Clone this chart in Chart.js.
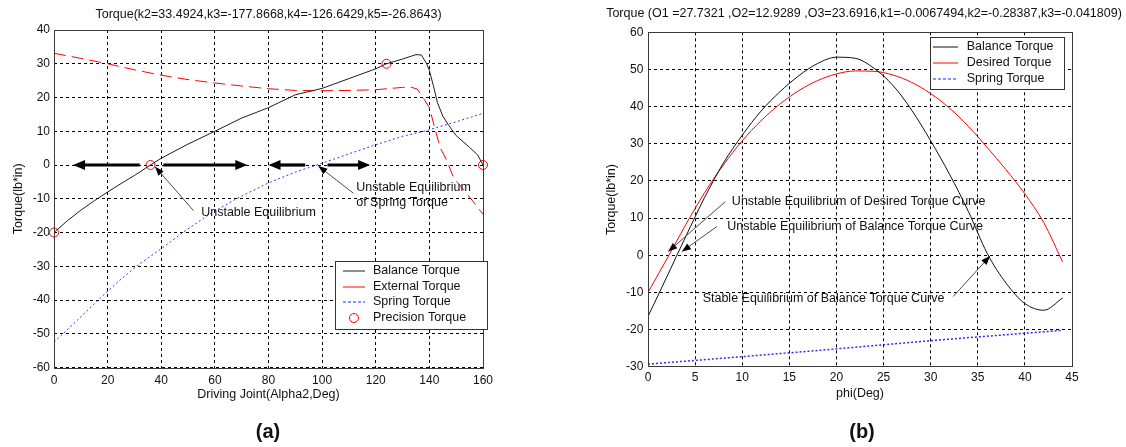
<!DOCTYPE html>
<html>
<head>
<meta charset="utf-8">
<script src="https://cdn.jsdelivr.net/npm/chart.js@4.4.0/dist/chart.umd.min.js"></script>
<style>
    html, body { margin: 0; padding: 0; background: #fff; }
    body { width: 1126px; height: 447px; position: relative; overflow: hidden; font-family: "Liberation Sans", Arial, sans-serif; }
    canvas { position: absolute; top: 0; }
    #chartA { left: 0; }
    #chartB { left: 602px; }
    .tag { position: absolute; top: 419px; line-height: 24px; font-size: 20px; font-weight: bold; color: #111; transform: translateX(-50%); }
</style>
</head>
<body>
<canvas id="chartA" width="537" height="447"></canvas>
<canvas id="chartB" width="524" height="447"></canvas>
<div class="tag" style="left:268px">(a)</div>
<div class="tag" style="left:862px">(b)</div>
<script>
// (a) torque x Alpha2
const alphaBalance = [0, 5, 10, 15, 20, 25, 30, 36, 40, 50, 60, 70, 80, 90, 100, 110, 120, 124, 130, 135, 137, 139, 140, 141.5, 143, 145, 147, 150, 155, 158, 160];
const balanceTorqueA = [-20, -16.5, -13.4, -10.6, -8, -5.5, -3.1, 0, 2, 6.2, 10, 13.9, 17, 20.8, 22.7, 25.6, 28.5, 30, 31.4, 32.7, 32.6, 30, 28, 23.5, 18.5, 14.5, 12, 8.7, 5.2, 3, 0];
const alphaExternal = [0, 10, 20, 30, 40, 50, 60, 70, 80, 90, 100, 110, 120, 130, 133, 135.5, 138, 140, 142, 144, 146.5, 149, 155, 160];
const externalTorqueA = [33.1, 31.6, 30, 28.2, 26.6, 25.3, 24.3, 23.4, 22.6, 22.1, 22, 22.1, 22.3, 23, 23.1, 22.5, 19.5, 17, 11, 5.2, 1.3, -3.7, -9.5, -14.6];
const alphaSpring = [0, 8, 16.5, 24, 30.7, 40, 48, 58, 68, 80, 90, 98, 110, 120, 130, 138, 150, 160];
const springTorqueA = [-52.5, -46.5, -40, -34.5, -30, -24.8, -20, -14.6, -10, -5.3, -2.1, 0, 3.3, 6, 8.5, 10, 12.8, 15.3];
const alphaPrecision = [0, 36, 124, 160];
const precisionTorqueA = [-20, 0, 30, 0];
const xTicksA = [0, 20, 40, 60, 80, 100, 120, 140, 160];
const yTicksA = [-60, -50, -40, -30, -20, -10, 0, 10, 20, 30, 40];

// (b) torque x phi
const phi = [0, 2, 4, 6, 8, 10, 12, 14, 16, 18, 20, 22, 24, 26, 28, 30, 32, 34, 36, 38, 40, 42, 44];
const balanceTorqueB = [-16.5, -5.8, 5, 15.5, 24.8, 32.3, 38.8, 44, 48.3, 51.6, 53.3, 53, 50.3, 45.7, 39, 30.8, 21.8, 11.8, 0.5, -7.5, -13, -14.8, -11.5];
const desiredTorqueB = [-10, -1, 8.2, 16.8, 24.3, 30.8, 36.2, 40.7, 44.3, 47, 48.8, 49.6, 49.5, 48.5, 46.5, 43.5, 39.6, 34.7, 29, 23, 16.5, 8.8, -1.8];
const phiSpring = [0, 10, 20, 30, 40, 44];
const springTorqueB = [-29.3, -27.3, -25.2, -23, -21, -20.2];
const xTicksB = [0, 5, 10, 15, 20, 25, 30, 35, 40, 45];
const yTicksB = [-30, -20, -10, 0, 10, 20, 30, 40, 50, 60];

const FONT = '"Liberation Sans", Arial, sans-serif';
const INK = '#111';

function pts(xs, ys) {
    return xs.map((x, i) => ({ x: x, y: ys[i] }));
}

function ticksFrom(list) {
    return function (scale) { scale.ticks = list.map(v => ({ value: v })); };
}

function axes(xTicks, yTicks, c) {
    const grid = { color: '#000', lineWidth: 1, drawTicks: false };
    const border = { display: false, dash: [3, 3] };
    const tickFont = { family: FONT, size: 12 };
    const titleFont = { family: FONT, size: 12.5 };
    return {
        x: {
            type: 'linear', min: xTicks[0], max: xTicks[xTicks.length - 1],
            afterBuildTicks: ticksFrom(xTicks),
            afterFit: s => { s.height = c.xh; },
            grid: grid, border: border,
            ticks: { padding: c.xpad, color: INK, font: tickFont, maxRotation: 0, autoSkip: false },
            title: { display: true, text: c.xTitle, color: INK, font: titleFont, padding: { top: 0, bottom: c.xtPad } }
        },
        y: {
            type: 'linear', min: yTicks[0], max: yTicks[yTicks.length - 1],
            afterBuildTicks: ticksFrom(yTicks),
            afterFit: s => { s.width = c.yw; },
            grid: grid, border: border,
            ticks: { padding: c.ypad, color: INK, font: tickFont, autoSkip: false },
            title: { display: true, text: 'Torque(lb*in)', color: INK, font: titleFont, padding: { top: c.ytPad, bottom: 0 } }
        },
        // eixo vazio à direita, só para reservar margem e centralizar o título
        yr: {
            type: 'linear', position: 'right',
            afterFit: s => { s.width = c.rw; },
            grid: { display: false }, border: { display: false }, ticks: { display: false }
        }
    };
}

// moldura do eixo
const frame = {
    id: 'frame',
    afterDatasetsDraw(chart) {
        const a = chart.chartArea, ctx = chart.ctx;
        ctx.save();
        ctx.strokeStyle = '#3a3a3a';
        ctx.lineWidth = 1;
        ctx.strokeRect(Math.round(a.left) + 0.5, Math.round(a.top) + 0.5, Math.round(a.right - a.left), Math.round(a.bottom - a.top));
        ctx.restore();
    }
};

function head(ctx, x0, y0, x1, y1, len, half) {
    const ang = Math.atan2(y1 - y0, x1 - x0);
    const bx = x1 - len * Math.cos(ang), by = y1 - len * Math.sin(ang);
    ctx.beginPath();
    ctx.moveTo(x1, y1);
    ctx.lineTo(bx - half * Math.sin(ang), by + half * Math.cos(ang));
    ctx.lineTo(bx + half * Math.sin(ang), by - half * Math.cos(ang));
    ctx.closePath();
    ctx.fill();
}

// setas e textos de anotação, posicionados pelas escalas
const notes = {
    id: 'notes',
    afterDatasetsDraw(chart, args, o) {
        const ctx = chart.ctx, sx = chart.scales.x, sy = chart.scales.y;
        ctx.save();
        ctx.fillStyle = '#000';
        ctx.strokeStyle = '#000';
        (o.bold || []).forEach(b => {
            const x0 = sx.getPixelForValue(b[0]), x1 = sx.getPixelForValue(b[1]), y = sy.getPixelForValue(b[2]);
            const dir = x1 > x0 ? 1 : -1;
            ctx.lineWidth = 3.2;
            ctx.beginPath();
            ctx.moveTo(x0, y);
            ctx.lineTo(x1 - dir * 10, y);
            ctx.stroke();
            head(ctx, x0, y, x1, y, 12, 5);
        });
        (o.thin || []).forEach(t => {
            const x0 = sx.getPixelForValue(t[0]), y0 = sy.getPixelForValue(t[1]);
            const x1 = sx.getPixelForValue(t[2]), y1 = sy.getPixelForValue(t[3]);
            ctx.strokeStyle = '#4a4a4a';
            ctx.lineWidth = 1;
            ctx.beginPath();
            ctx.moveTo(x0, y0);
            ctx.lineTo(x1, y1);
            ctx.stroke();
            ctx.fillStyle = '#000';
            head(ctx, x0, y0, x1, y1, 9, 3.5);
        });
        ctx.fillStyle = INK;
        ctx.font = '12.5px ' + FONT;
        ctx.textAlign = 'left';
        ctx.textBaseline = 'middle';
        (o.labels || []).forEach(l => {
            ctx.fillText(l[0], sx.getPixelForValue(l[1]), sy.getPixelForValue(l[2]));
        });
        ctx.restore();
    }
};

// legenda em caixa, no estilo do MATLAB
const boxLegend = {
    id: 'boxLegend',
    afterDraw(chart, args, o) {
        const ctx = chart.ctx;
        ctx.save();
        ctx.fillStyle = '#fff';
        ctx.fillRect(o.left, o.top, o.width, o.height);
        ctx.strokeStyle = '#333';
        ctx.lineWidth = 1;
        ctx.strokeRect(o.left + 0.5, o.top + 0.5, o.width, o.height);
        chart.data.datasets.forEach((ds, i) => {
            const cy = Math.round(o.top + o.first + i * o.step);
            ctx.strokeStyle = o.colors[i];
            ctx.lineWidth = 1;
            if (ds.showLine === false) {
                ctx.beginPath();
                ctx.arc((o.x0 + o.x1) / 2, cy, ds.pointRadius, 0, Math.PI * 2);
                ctx.stroke();
            } else {
                ctx.setLineDash(o.dashes[i] || []);
                ctx.beginPath();
                ctx.moveTo(o.x0, cy);
                ctx.lineTo(o.x1, cy);
                ctx.stroke();
                ctx.setLineDash([]);
            }
            ctx.fillStyle = INK;
            ctx.font = '12.5px ' + FONT;
            ctx.textBaseline = 'middle';
            ctx.fillText(ds.label, o.textX, cy);
        });
        ctx.restore();
    }
};

function titleOpts(text, top, bottom) {
    return { display: true, text: text, color: INK, font: { family: FONT, size: 12.5, weight: 'normal' }, padding: { top: top, bottom: bottom } };
}

document.addEventListener('DOMContentLoaded', function () {
    const line = { showLine: true, pointRadius: 0, pointHoverRadius: 0, fill: false };

    new Chart(document.getElementById('chartA').getContext('2d'), {
        type: 'scatter',
        data: {
            datasets: [
                Object.assign({ label: 'Balance Torque', data: pts(alphaBalance, balanceTorqueA), borderColor: '#1e1e1e', borderWidth: 1 }, line),
                Object.assign({ label: 'External Torque', data: pts(alphaExternal, externalTorqueA), borderColor: '#ff0000', borderWidth: 1, borderDash: [12, 6] }, line),
                Object.assign({ label: 'Spring Torque', data: pts(alphaSpring, springTorqueA), borderColor: 'rgba(30,30,255,0.9)', borderWidth: 1, borderDash: [2, 2.5] }, line),
                { label: 'Precision Torque', data: pts(alphaPrecision, precisionTorqueA), showLine: false, clip: false, pointRadius: 4.5, pointHoverRadius: 4.5, borderColor: '#ff0000', backgroundColor: 'rgba(0,0,0,0)', borderWidth: 1 }
            ]
        },
        options: {
            responsive: false,
            animation: false,
            layout: { padding: { left: 0, top: 0, right: 0, bottom: 43.5 } },
            scales: axes(xTicksA, yTicksA, { xh: 36, xpad: 5.5, xtPad: 1, yw: 54, rw: 54, ypad: 4, ytPad: 10.8, xTitle: 'Driving Joint(Alpha2,Deg)' }),
            plugins: {
                legend: { display: false },
                tooltip: { enabled: false },
                title: titleOpts('Torque(k2=33.4924,k3=-177.8668,k4=-126.6429,k5=-26.8643)', 7.5, 7.5),
                notes: {
                    bold: [[32, 7.1, 0], [40.8, 72.1, 0], [93.7, 80, 0], [102, 117.9, 0]],
                    thin: [[52, -13.5, 37.7, -0.5], [111.7, -8.4, 98.6, -0.3]],
                    labels: [['Unstable Equilibrium', 54.9, -14.2], ['Unstable Equilibrium', 112.7, -6.6], ['of Spring Torque', 112.7, -11.2]]
                },
                boxLegend: {
                    left: 335, top: 261, width: 152, height: 68, first: 10, step: 15.7, x0: 343, x1: 365, textX: 373,
                    colors: ['#1e1e1e', '#ff0000', '#2020ff', '#ff0000'], dashes: [[], [], [3, 2], []]
                }
            }
        },
        plugins: [frame, notes, boxLegend]
    });

    new Chart(document.getElementById('chartB').getContext('2d'), {
        type: 'scatter',
        data: {
            datasets: [
                Object.assign({ label: 'Balance Torque', data: pts(phi, balanceTorqueB), borderColor: '#111', borderWidth: 1, cubicInterpolationMode: 'monotone' }, line),
                Object.assign({ label: 'Desired Torque', data: pts(phi, desiredTorqueB), borderColor: '#ff0000', borderWidth: 1, cubicInterpolationMode: 'monotone' }, line),
                Object.assign({ label: 'Spring Torque', data: pts(phiSpring, springTorqueB), borderColor: 'rgba(20,20,255,0.9)', borderWidth: 1.5, borderDash: [2, 2], cubicInterpolationMode: 'monotone' }, line)
            ]
        },
        options: {
            responsive: false,
            animation: false,
            layout: { padding: { left: 0, top: 0, right: 0, bottom: 45.3 } },
            scales: axes(xTicksB, yTicksB, { xh: 35, xpad: 4, xtPad: 0.2, yw: 46, rw: 54, ypad: 4.7, ytPad: 2.2, xTitle: 'phi(Deg)' }),
            plugins: {
                legend: { display: false },
                tooltip: { enabled: false },
                title: titleOpts('Torque (O1 =27.7321 ,O2=12.9289 ,O3=23.6916,k1=-0.0067494,k2=-0.28387,k3=-0.041809)', 6.5, 10.8),
                notes: {
                    thin: [[8.2, 14.4, 2.15, 1.0], [7.3, 7.7, 3.6, 1.0], [32.4, -11.1, 36.3, -0.2]],
                    labels: [['Unstable Equilibrium of Desired Torque Curve', 8.9, 14.4], ['Unstable Equilibrium of Balance Torque Curve', 8.4, 7.7], ['Stable Equilibrium of Balance Torque Curve', 5.8, -11.6]]
                },
                boxLegend: {
                    left: 328, top: 37, width: 134, height: 52, first: 10.3, step: 16, x0: 331, x1: 356, textX: 364.7,
                    colors: ['#111', '#ff0000', '#2020ff'], dashes: [[], [], [3, 2]]
                }
            }
        },
        plugins: [frame, notes, boxLegend]
    });
});
</script>
</body>
</html>
